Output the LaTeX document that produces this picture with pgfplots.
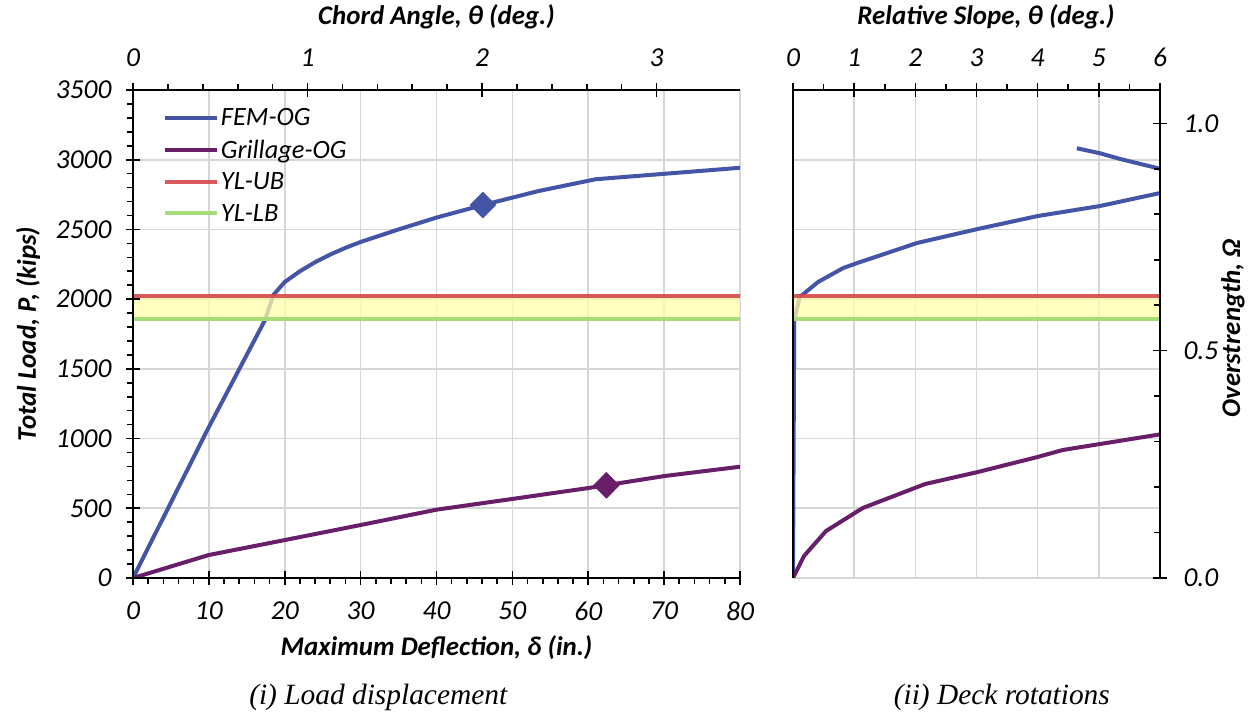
\documentclass[border=0pt]{standalone}
\usepackage{fontspec}
\setmainfont{Carlito}
\newfontfamily\capfont{Liberation Serif}
\usepackage{pgfplots}
\pgfplotsset{compat=1.18}
\definecolor{femblue}{RGB}{68,84,166}
\definecolor{grpurple}{RGB}{104,30,104}
\definecolor{ubred}{RGB}{214,70,74}
\definecolor{lbgreen}{RGB}{168,220,120}
\definecolor{bandy}{RGB}{255,255,170}
\definecolor{gridgray}{RGB}{214,214,214}
\newcommand\tkfont{\fontsize{27.5}{32}\selectfont\itshape}
\newcommand\lgfont{\fontsize{26.5}{31}\selectfont\itshape}
\newcommand\lbfont{\fontsize{27}{32}\selectfont\bfseries\itshape}
\newcommand\cpfont{\fontsize{29.5}{34}\selectfont\capfont\itshape}

\pgfplotsset{
 base/.style={scale only axis, height=488bp, ymin=0, ymax=3500,
   axis line style={line width=1.6bp, black},
   tick style={line width=1.6bp, black},
   /pgf/number format/assume math mode=true,
   tick label style={font=\tkfont},
   label style={font=\lbfont},
   clip=false,
 },
 L/.style={base, at={(0bp,0bp)}, anchor=south west, width=607bp, xmin=0, xmax=80},
 R/.style={base, at={(660bp,0bp)}, anchor=south west, width=367bp, xmin=0, xmax=6},
 dataax/.style={axis line style={draw=none}, tick style={draw=none},
   xticklabels={}, yticklabels={}, grid=major,
   grid style={gridgray, line width=1.6bp}, clip=true},
 dl/.style={line width=4bp},
}

\begin{document}
\begin{tikzpicture}
\useasboundingbox (-133bp,-139bp) rectangle (1119bp,578bp);

% ---------------- LEFT: data ----------------
\begin{axis}[L, dataax, xtick={0,10,...,80}, ytick={0,500,...,3500},
  legend style={draw=none, fill=none, at={(axis description cs:0.049,0.967)},
    anchor=north west, font=\lgfont, row sep=9bp, inner sep=0pt},
  legend cell align=left,
  legend image code/.code={\draw[#1, line width=4bp] (0bp,0bp) -- (52bp,0bp);}]
\addplot[femblue, dl] coordinates {(0,0) (10,1083) (17.4,1850) (18.5,2030) (20,2123)
  (22,2200) (24,2265) (26,2320) (28,2368) (30,2410) (35,2500) (40,2585) (46.1,2675)
  (53.5,2776) (61,2860) (80,2942)};
\addlegendentry{FEM-OG}
\addplot[grpurple, dl] coordinates {(0,0) (10,165) (20,272) (30,380) (40,490)
  (50,567) (60,645) (70,731) (80,798)};
\addlegendentry{Grillage-OG}
\addplot[forget plot, draw=none, fill=bandy, fill opacity=0.75]
  coordinates {(0,1857) (80,1857) (80,2022) (0,2022)};
\addplot[ubred, dl, opacity=0.9] coordinates {(0,2022) (80,2022)};
\addlegendentry{YL-UB}
\addplot[lbgreen, dl] coordinates {(0,1857) (80,1857)};
\addlegendentry{YL-LB}
\addplot[forget plot, only marks, mark=diamond*, mark size=13bp,
  mark options={xscale=1.33, fill=femblue, draw=femblue}] coordinates {(46.1,2675)};
\addplot[forget plot, only marks, mark=diamond*, mark size=13bp,
  mark options={xscale=1.33, fill=grpurple, draw=grpurple}] coordinates {(62.4,665)};
\end{axis}

% left y axis
\begin{axis}[L, hide x axis, axis y line*=left,
  ytick={0,500,...,3500}, yticklabels={0,500,1000,1500,2000,2500,3000,3500},
  minor y tick num=4, tick align=outside, major tick length=14bp, minor tick length=6bp,
  major tick style={xshift=7bp},
  yticklabel style={xshift=-4bp},
  ylabel={Total Load, P, (kips)},
  ylabel style={at={(axis description cs:-0.173,0.5)}, anchor=center}]
\end{axis}

% bottom x axis
\begin{axis}[L, hide y axis, axis x line*=bottom,
  xtick={0,10,...,80}, xticklabels={0,10,20,30,40,50,60,70,80},
  minor x tick num=4, tick align=outside, major tick length=14bp, minor tick length=6bp,
  major tick style={yshift=7bp},
  xticklabel style={yshift=-6bp},
  xlabel={Maximum Deflection, δ (in.)},
  xlabel style={at={(axis description cs:0.5,-0.1434)}, anchor=center}]
\node[font=\cpfont] at (axis description cs:0.404,-0.244) {(i) Load displacement};
\end{axis}

% top chord-angle axis
\begin{axis}[L, xmin=0, xmax=3.478, hide y axis, axis x line*=top,
  xtick={0,1,2,3}, xticklabels={0,1,2,3},
  minor x tick num=4, tick align=outside, major tick length=14bp, minor tick length=6bp,
  major tick style={yshift=-7bp},
  xticklabel style={yshift=6bp},
  xlabel={Chord Angle, θ (deg.)},
  xlabel style={at={(axis description cs:0.5,1.1496)}, anchor=center}]
\end{axis}

% ---------------- RIGHT: data ----------------
\begin{axis}[R, dataax, xtick={0,1,...,6}, ytick={0,500,...,3500}]
\addplot[femblue, dl] coordinates {(0,0) (0.02,1850) (0.11,2015) (0.41,2123)
  (0.82,2223) (1.05,2259) (2.03,2403) (3.02,2503) (4.0,2596) (5.02,2668) (6.0,2761)};
\addplot[femblue, dl] coordinates {(4.64,3082) (5.02,3046) (5.35,3005) (6.02,2933)};
\addplot[grpurple, dl] coordinates {(0,0) (0.18,158) (0.54,337) (1.14,502) (2.16,674)
  (3.02,760) (4.0,868) (4.41,918) (5.02,961) (6.0,1030)};
\addplot[draw=none, fill=bandy, fill opacity=0.75]
  coordinates {(0,1857) (6,1857) (6,2022) (0,2022)};
\addplot[ubred, dl, opacity=0.9] coordinates {(0,2022) (6,2022)};
\addplot[lbgreen, dl] coordinates {(0,1857) (6,1857)};
\end{axis}

% right plot left line
\begin{axis}[R, hide x axis, axis y line*=left, ytick=\empty]
\end{axis}

% right plot top axis
\begin{axis}[R, hide y axis, axis x line*=top,
  xtick={0,1,...,6}, xticklabels={0,1,2,3,4,5,6},
  minor x tick num=1, tick align=outside, major tick length=14bp, minor tick length=6bp,
  major tick style={yshift=-7bp},
  xticklabel style={yshift=6bp},
  xlabel={Relative Slope, θ (deg.)},
  xlabel style={at={(axis description cs:0.526,1.1496)}, anchor=center}]
\node[font=\cpfont] at (axis description cs:0.569,-0.244) {(ii) Deck rotations};
\end{axis}

% overstrength axis
\begin{axis}[R, ymin=0, ymax=1.0733, hide x axis, axis y line*=right,
  ytick={0,0.5,1}, yticklabels={0.0,0.5,1.0},
  minor ytick={0.1,0.2,0.3,0.4,0.6,0.7,0.8,0.9},
  tick align=inside, major tick length=14bp, minor tick length=6bp,
  major tick style={xshift=7bp},
  yticklabel style={xshift=20bp},
  ylabel={Overstrength, Ω},
  ylabel style={at={(axis description cs:1.199,0.512)}, anchor=center}]
\end{axis}
\end{tikzpicture}
\end{document}
